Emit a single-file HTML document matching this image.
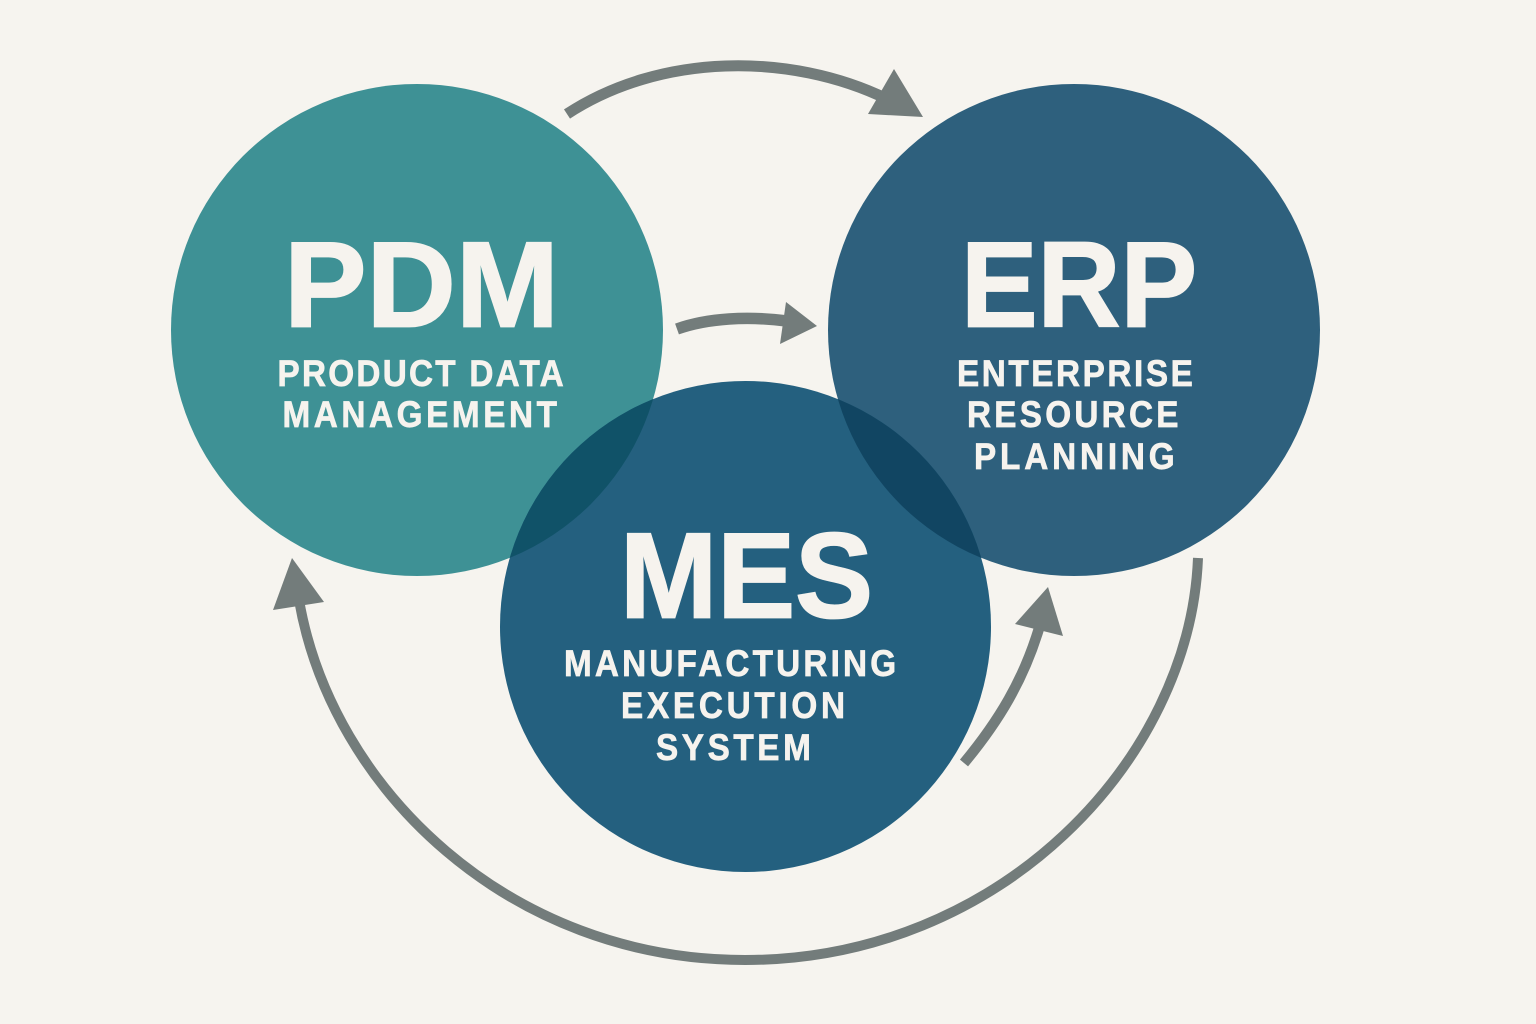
<!DOCTYPE html>
<html>
<head>
<meta charset="utf-8">
<style>
html,body{margin:0;padding:0;background:#f6f4ef;}
svg{display:block;}
text{font-family:"Liberation Sans",sans-serif;font-weight:700;fill:#f6f3ee;stroke:#f6f3ee;text-anchor:start;}
.big{font-size:122px;stroke-width:1.8;}
.sm{font-size:37px;stroke-width:.7;}
</style>
</head>
<body>
<svg width="1536" height="1024" viewBox="0 0 1536 1024" xmlns="http://www.w3.org/2000/svg">
<defs>
<clipPath id="pdmClip"><circle cx="417" cy="330" r="246"/></clipPath>
<clipPath id="erpClip"><circle cx="1074" cy="330" r="246"/></clipPath>
</defs>
<rect width="1536" height="1024" fill="#f6f4ef"/>
<circle cx="417" cy="330" r="246" fill="#3e9195"/>
<circle cx="1074" cy="330" r="246" fill="#2e607d"/>
<circle cx="745.5" cy="626.5" r="245.5" fill="#24607f"/>
<circle cx="745.5" cy="626.5" r="245.5" fill="#105268" clip-path="url(#pdmClip)"/>
<circle cx="745.5" cy="626.5" r="245.5" fill="#114562" clip-path="url(#erpClip)"/>
<g fill="none" stroke="#737c7b">
<path stroke-width="11" d="M567 114 C660 53 790 52 887 99"/>
<path stroke-width="11.5" d="M677 329 C708 318 748 316 787 321"/>
<path stroke-width="10.5" d="M964 763 C998 722 1024 680 1040 625"/>
<path stroke-width="10" d="M1198 558 C1190 760 1000 960 745 960 C510 960 332 790 299 600"/>
</g>
<g fill="#737c7b">
<polygon points="923,117 868,114 894,69"/>
<polygon points="817,326 780,344 786,302"/>
<polygon points="1048,587 1063,636 1015,624"/>
<polygon points="292,558 324,602 273,610"/>
</g>
<text class="big" x="284" y="326.5" textLength="275" lengthAdjust="spacingAndGlyphs">PDM</text>
<text class="big" x="961" y="326.5" textLength="236" lengthAdjust="spacingAndGlyphs">ERP</text>
<text class="big" x="620" y="617.5" textLength="253" lengthAdjust="spacingAndGlyphs">MES</text>
<text class="sm" transform="translate(277.5,386) scale(.9,1)" textLength="318" lengthAdjust="spacing">PRODUCT DATA</text>
<text class="sm" transform="translate(282.5,427) scale(.9,1)" textLength="305" lengthAdjust="spacing">MANAGEMENT</text>
<text class="sm" transform="translate(957,386) scale(.9,1)" textLength="262" lengthAdjust="spacing">ENTERPRISE</text>
<text class="sm" transform="translate(967,427) scale(.9,1)" textLength="235" lengthAdjust="spacing">RESOURCE</text>
<text class="sm" transform="translate(974,469) scale(.9,1)" textLength="223" lengthAdjust="spacing">PLANNING</text>
<text class="sm" transform="translate(564,676) scale(.9,1)" textLength="369" lengthAdjust="spacing">MANUFACTURING</text>
<text class="sm" transform="translate(621,718) scale(.9,1)" textLength="249" lengthAdjust="spacing">EXECUTION</text>
<text class="sm" transform="translate(656,760) scale(.9,1)" textLength="172" lengthAdjust="spacing">SYSTEM</text>
</svg>
</body>
</html>
